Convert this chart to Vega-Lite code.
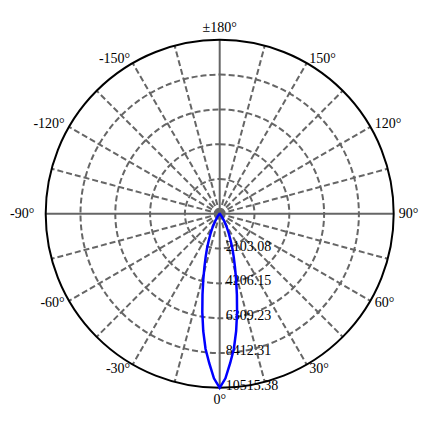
{
  "$schema": "https://vega.github.io/schema/vega-lite/v6.json",
  "description": "Polar luminous intensity distribution, narrow beam.",
  "width": 447,
  "height": 427,
  "autosize": "none",
  "padding": 0,
  "background": "white",
  "config": {
    "view": {"stroke": null},
    "text": {"font": "Liberation Serif", "fontSize": 14, "color": "black"}
  },
  "datasets": {
    "curve": [
      {"a": -180, "I": 2}, {"a": -150, "I": 2}, {"a": -120, "I": 3}, {"a": -90, "I": 5},
      {"a": -75, "I": 10}, {"a": -60, "I": 20}, {"a": -50, "I": 40}, {"a": -40, "I": 120},
      {"a": -36, "I": 250}, {"a": -32, "I": 500}, {"a": -28, "I": 900}, {"a": -25, "I": 1300},
      {"a": -22, "I": 1800}, {"a": -20, "I": 2250}, {"a": -18, "I": 2750}, {"a": -16, "I": 3350},
      {"a": -14, "I": 4100}, {"a": -12, "I": 5000}, {"a": -10, "I": 6050}, {"a": -8, "I": 7150},
      {"a": -6, "I": 8200}, {"a": -4, "I": 9050}, {"a": -2, "I": 9950},
      {"a": 0, "I": 10515.38},
      {"a": 2, "I": 9950}, {"a": 4, "I": 9050}, {"a": 6, "I": 8200}, {"a": 8, "I": 7150},
      {"a": 10, "I": 6050}, {"a": 12, "I": 5000}, {"a": 14, "I": 4100}, {"a": 16, "I": 3350},
      {"a": 18, "I": 2750}, {"a": 20, "I": 2250}, {"a": 22, "I": 1800}, {"a": 25, "I": 1300},
      {"a": 28, "I": 900}, {"a": 32, "I": 500}, {"a": 36, "I": 250}, {"a": 40, "I": 120},
      {"a": 50, "I": 40}, {"a": 60, "I": 20}, {"a": 75, "I": 10}, {"a": 90, "I": 5},
      {"a": 120, "I": 3}, {"a": 150, "I": 2}, {"a": 180, "I": 2}
    ],
    "spokes": [
      {"a": -165}, {"a": -150}, {"a": -135}, {"a": -120}, {"a": -105}, {"a": -90},
      {"a": -75}, {"a": -60}, {"a": -45}, {"a": -30}, {"a": -15}, {"a": 0},
      {"a": 15}, {"a": 30}, {"a": 45}, {"a": 60}, {"a": 75}, {"a": 90},
      {"a": 105}, {"a": 120}, {"a": 135}, {"a": 150}, {"a": 165}, {"a": 180}
    ],
    "rings": [
      {"v": 2103.08}, {"v": 4206.15}, {"v": 6309.23}, {"v": 8412.31}, {"v": 10515.38}
    ],
    "angles": [
      {"a": 0, "t": "0°"}, {"a": 30, "t": "30°"}, {"a": 60, "t": "60°"}, {"a": 90, "t": "90°"},
      {"a": 120, "t": "120°"}, {"a": 150, "t": "150°"}, {"a": 180, "t": "±180°"},
      {"a": -150, "t": "-150°"}, {"a": -120, "t": "-120°"}, {"a": -90, "t": "-90°"},
      {"a": -60, "t": "-60°"}, {"a": -30, "t": "-30°"}
    ]
  },
  "layer": [
    {
      "data": {"name": "rings"},
      "transform": [{"filter": "datum.v < 10515"}, {"calculate": "0", "as": "o"}],
      "mark": {"type": "arc", "filled": false, "stroke": "#666666", "strokeWidth": 2, "strokeDash": [6, 3], "theta": 0, "theta2": 6.2832},
      "encoding": {
        "x": {"field": "o", "type": "quantitative", "scale": {"domain": [-13277, 13737], "nice": false, "zero": false}, "axis": null},
        "y": {"field": "o", "type": "quantitative", "scale": {"domain": [-12884, 12921], "nice": false, "zero": false}, "axis": null},
        "radius": {"field": "v", "type": "quantitative", "stack": null, "scale": {"type": "linear", "domain": [0, 10515.38], "range": [0, 174], "zero": true}}
      }
    },
    {
      "data": {"name": "spokes"},
      "transform": [
        {"filter": "datum.a % 90 != 0"},
        {"calculate": "0", "as": "o"},
        {"calculate": "10515.38 * sin(datum.a * PI / 180)", "as": "sx"},
        {"calculate": "-10515.38 * cos(datum.a * PI / 180)", "as": "sy"}
      ],
      "mark": {"type": "rule", "stroke": "#666666", "strokeWidth": 2, "strokeDash": [6, 3]},
      "encoding": {
        "x": {"field": "o", "type": "quantitative"},
        "y": {"field": "o", "type": "quantitative"},
        "x2": {"field": "sx"},
        "y2": {"field": "sy"}
      }
    },
    {
      "data": {"name": "spokes"},
      "transform": [
        {"filter": "datum.a % 90 == 0"},
        {"calculate": "0", "as": "o"},
        {"calculate": "10515.38 * sin(datum.a * PI / 180)", "as": "sx"},
        {"calculate": "-10515.38 * cos(datum.a * PI / 180)", "as": "sy"}
      ],
      "mark": {"type": "rule", "stroke": "#666666", "strokeWidth": 2},
      "encoding": {
        "x": {"field": "o", "type": "quantitative"},
        "y": {"field": "o", "type": "quantitative"},
        "x2": {"field": "sx"},
        "y2": {"field": "sy"}
      }
    },
    {
      "data": {"name": "rings"},
      "transform": [{"filter": "datum.v > 10515"}, {"calculate": "0", "as": "o"}],
      "mark": {"type": "arc", "filled": false, "stroke": "black", "strokeWidth": 2, "theta": 0, "theta2": 6.2832},
      "encoding": {
        "x": {"field": "o", "type": "quantitative"},
        "y": {"field": "o", "type": "quantitative"},
        "radius": {"field": "v", "type": "quantitative", "stack": null}
      }
    },
    {
      "data": {"name": "rings"},
      "transform": [{"calculate": "0", "as": "o"}, {"calculate": "-datum.v", "as": "neg"}],
      "mark": {"type": "text", "align": "left", "baseline": "middle", "dx": 6, "dy": -2},
      "encoding": {
        "x": {"field": "o", "type": "quantitative"},
        "y": {"field": "neg", "type": "quantitative"},
        "text": {"field": "v", "type": "quantitative", "format": ".2f"}
      }
    },
    {
      "data": {"name": "curve"},
      "transform": [
        {"calculate": "datum.I * sin(datum.a * PI / 180)", "as": "cx"},
        {"calculate": "-datum.I * cos(datum.a * PI / 180)", "as": "cy"}
      ],
      "mark": {"type": "line", "stroke": "#0000ff", "strokeWidth": 2.5},
      "encoding": {
        "x": {"field": "cx", "type": "quantitative"},
        "y": {"field": "cy", "type": "quantitative"},
        "order": {"field": "a", "type": "quantitative"}
      }
    },
    {
      "data": {"name": "angles"},
      "transform": [
        {"filter": "datum.a > 0 && datum.a < 180"},
        {"calculate": "10817 * sin(datum.a * PI / 180)", "as": "lx"},
        {"calculate": "-10817 * cos(datum.a * PI / 180)", "as": "ly"}
      ],
      "mark": {"type": "text", "align": "left", "baseline": "middle"},
      "encoding": {
        "x": {"field": "lx", "type": "quantitative"},
        "y": {"field": "ly", "type": "quantitative"},
        "text": {"field": "t", "type": "nominal"}
      }
    },
    {
      "data": {"name": "angles"},
      "transform": [
        {"filter": "datum.a < 0 && datum.a > -180"},
        {"calculate": "(datum.a == -90 ? 11200 : 10817) * sin(datum.a * PI / 180)", "as": "lx"},
        {"calculate": "-10817 * cos(datum.a * PI / 180)", "as": "ly"}
      ],
      "mark": {"type": "text", "align": "right", "baseline": "middle"},
      "encoding": {
        "x": {"field": "lx", "type": "quantitative"},
        "y": {"field": "ly", "type": "quantitative"},
        "text": {"field": "t", "type": "nominal"}
      }
    },
    {
      "data": {"name": "angles"},
      "transform": [
        {"filter": "datum.a == 0 || datum.a == 180"},
        {"calculate": "11240 * sin(datum.a * PI / 180)", "as": "lx"},
        {"calculate": "-11240 * cos(datum.a * PI / 180)", "as": "ly"}
      ],
      "mark": {"type": "text", "align": "center", "baseline": "middle"},
      "encoding": {
        "x": {"field": "lx", "type": "quantitative"},
        "y": {"field": "ly", "type": "quantitative"},
        "text": {"field": "t", "type": "nominal"}
      }
    }
  ]
}
